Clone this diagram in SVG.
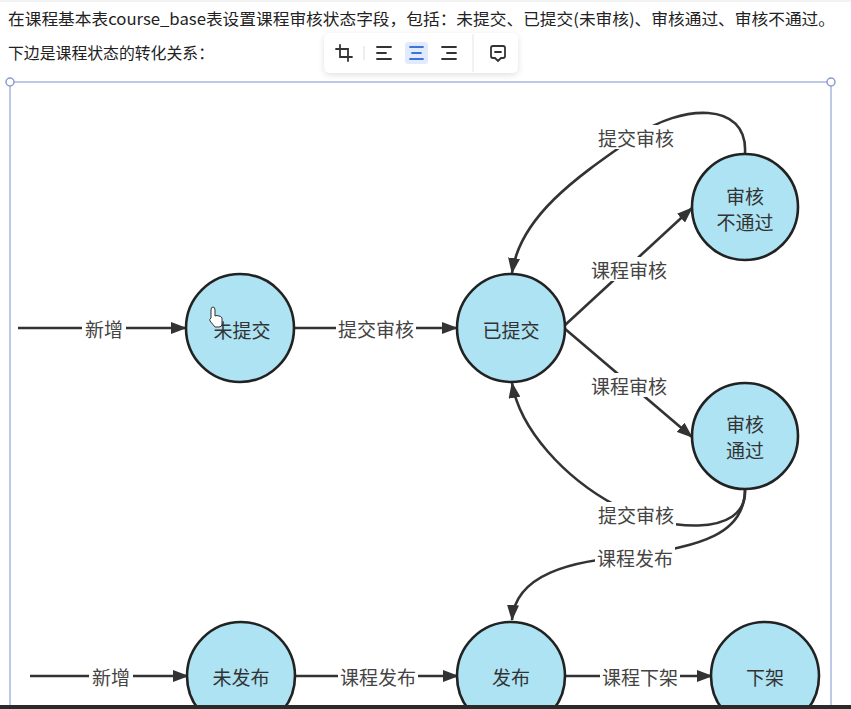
<svg xmlns="http://www.w3.org/2000/svg" width="851" height="709" viewBox="0 0 851 709">
<defs>
<style>
.node circle{fill:#ade3f3;stroke:#222;stroke-width:2.6}
.ntext{font-family:"Noto Sans CJK SC","Noto Sans",sans-serif;font-size:19px;fill:#333;text-anchor:middle;dominant-baseline:central}
.edge{fill:none;stroke:#333;stroke-width:2.6}
.lbl{font-family:"Noto Sans CJK SC","Noto Sans",sans-serif;font-size:19px;fill:#444;text-anchor:middle;dominant-baseline:central}
.lblbg{fill:#fff}
.body{font-family:"Noto Sans CJK SC","Noto Sans",sans-serif;font-size:16px;fill:#222}
.ico{fill:none;stroke:#333;stroke-width:1.8;stroke-linecap:round}
.frame{fill:none;stroke:#a9b8e0;stroke-width:1.5}
</style>
<marker id="arr" markerWidth="16" markerHeight="12" refX="15" refY="6" orient="auto" markerUnits="userSpaceOnUse">
<path d="M0,0 L16,6 L0,12 Z" fill="#333"/>
</marker>
<filter id="sh" x="-10%" y="-20%" width="120%" height="150%">
<feDropShadow dx="0" dy="2" stdDeviation="3" flood-color="#000" flood-opacity="0.12"/>
</filter>
</defs>
<rect width="851" height="709" fill="#fff"/>
<line x1="0" y1="1" x2="851" y2="1" stroke="#e6e6e6" stroke-width="1"/>
<text class="body" x="8" y="25" textLength="827" lengthAdjust="spacingAndGlyphs">在课程基本表course_base表设置课程审核状态字段，包括：未提交、已提交(未审核)、审核通过、审核不通过。</text>
<text class="body" x="8" y="59" textLength="206" lengthAdjust="spacingAndGlyphs">下边是课程状态的转化关系：</text>

<g id="frame">
<path class="frame" d="M10,705 V82 H831 V705"/>
<circle cx="10" cy="82" r="4" fill="#fff" stroke="#8c9cc8" stroke-width="1.5"/>
<circle cx="831" cy="82" r="4" fill="#fff" stroke="#8c9cc8" stroke-width="1.5"/>
</g>

<g id="toolbar">
<rect x="324" y="33" width="194" height="40" rx="6" fill="#fff" filter="url(#sh)"/>
<path class="ico" d="M340,45 V57 H352 M336,49 H348 V61"/>
<line x1="364" y1="46" x2="364" y2="60" stroke="#ddd" stroke-width="1"/>
<path class="ico" d="M377,47 H391 M377,53 H386 M377,59 H391"/>
<rect x="405" y="42" width="23" height="22" rx="3" fill="#e2ebfd"/>
<path class="ico" d="M410,47 H423 M412,53 H421 M410,59 H423" style="stroke:#3f72dc"/>
<path class="ico" d="M442,47 H456 M447,53 H456 M442,59 H456"/>
<line x1="473" y1="34" x2="473" y2="72" stroke="#e5e5e5" stroke-width="1"/>
<path class="ico" d="M493,46 H503 Q505,46 505,48 V56 Q505,58 503,58 H501 L498,61 L495,58 H493 Q491,58 491,56 V48 Q491,46 493,46 Z M495,52 H501"/>
</g>

<g id="connectors">
<line class="edge" x1="18" y1="328" x2="186" y2="328" marker-end="url(#arr)"/>
<line class="edge" x1="294" y1="328" x2="457" y2="328" marker-end="url(#arr)"/>
<line class="edge" x1="564" y1="326" x2="692" y2="208" marker-end="url(#arr)"/>
<line class="edge" x1="564" y1="328" x2="692" y2="437" marker-end="url(#arr)"/>
<path class="edge" d="M745,153 C748,100 680,105 636,136 C580,175 520,215 512,273" marker-end="url(#arr)"/>
<path class="edge" d="M745,489 C748,540 660,530 615,505 C565,478 520,430 512,383" marker-end="url(#arr)"/>
<path class="edge" d="M745,489 C745,535 700,545 636,556 C570,560 515,575 512,620" marker-end="url(#arr)"/>
<line class="edge" x1="30" y1="676" x2="188" y2="676" marker-end="url(#arr)"/>
<line class="edge" x1="295" y1="676" x2="458" y2="676" marker-end="url(#arr)"/>
<line class="edge" x1="566" y1="676" x2="712" y2="676" marker-end="url(#arr)"/>

<rect class="lblbg" x="82" y="316" width="44" height="24"/>
<text class="lbl" x="104" y="328">新增</text>
<rect class="lblbg" x="336" y="316" width="80" height="24"/>
<text class="lbl" x="376" y="328">提交审核</text>
<rect class="lblbg" x="589" y="257" width="80" height="24"/>
<text class="lbl" x="629" y="269">课程审核</text>
<rect class="lblbg" x="589" y="373" width="80" height="24"/>
<text class="lbl" x="629" y="385">课程审核</text>
<rect class="lblbg" x="596" y="125" width="80" height="24"/>
<text class="lbl" x="636" y="137">提交审核</text>
<rect class="lblbg" x="596" y="502" width="80" height="24"/>
<text class="lbl" x="636" y="514">提交审核</text>
<rect class="lblbg" x="595" y="545" width="80" height="24"/>
<text class="lbl" x="635" y="557">课程发布</text>
<rect class="lblbg" x="89" y="664" width="44" height="24"/>
<text class="lbl" x="111" y="676">新增</text>
<rect class="lblbg" x="338" y="664" width="80" height="24"/>
<text class="lbl" x="378" y="676">课程发布</text>
<rect class="lblbg" x="600" y="664" width="80" height="24"/>
<text class="lbl" x="640" y="676">课程下架</text>
</g>

<g id="n-weitijiao" class="node"><circle cx="240" cy="328" r="54"/><text class="ntext" x="242" y="329">未提交</text></g>
<g id="n-yitijiao" class="node"><circle cx="511" cy="328" r="54"/><text class="ntext" x="511" y="329">已提交</text></g>
<g id="n-butongguo" class="node"><circle cx="745" cy="207" r="53"/><text class="ntext" x="745" y="195">审核</text><text class="ntext" x="745" y="221">不通过</text></g>
<g id="n-tongguo" class="node"><circle cx="745" cy="436" r="53"/><text class="ntext" x="745" y="423">审核</text><text class="ntext" x="745" y="449">通过</text></g>
<g id="n-weifabu" class="node"><circle cx="241" cy="676" r="54"/><text class="ntext" x="241" y="676">未发布</text></g>
<g id="n-fabu" class="node"><circle cx="511" cy="676" r="54"/><text class="ntext" x="511" y="676">发布</text></g>
<g id="n-xiajia" class="node"><circle cx="765" cy="676" r="54"/><text class="ntext" x="765" y="676">下架</text></g>

<g id="cursor">
<path d="M211,310 Q211,307 213,307 Q215,307 215,310 V316 Q217,315 219,316 Q221,316 222,318 V324 Q222,327 219,327 H215 L210,321 Q209,319 211,318 Z" fill="#fff" stroke="#333" stroke-width="1"/>
</g>

<rect x="0" y="705" width="851" height="4" fill="#2a2a2a"/>
</svg>
